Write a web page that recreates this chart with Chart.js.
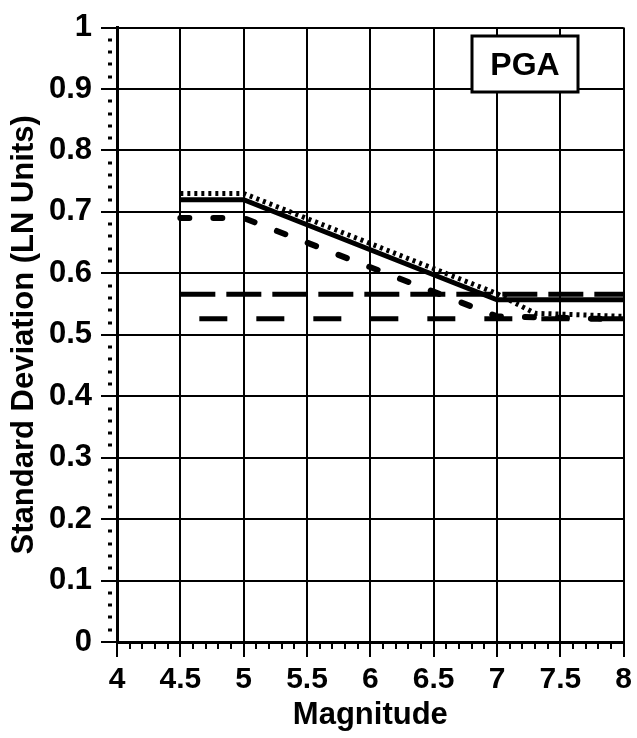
<!DOCTYPE html>
<html>
<head>
<meta charset="utf-8">
<script src="https://cdn.jsdelivr.net/npm/chart.js@4"></script>
<style>
  html, body { margin: 0; padding: 0; background: #fff; }
  #wrap { width: 637px; height: 738px; }
</style>
</head>
<body>
<div id="wrap"><canvas id="chart" width="637" height="738"></canvas></div>
<script>
// Valores (desvio padrão em unidades LN)
const solidX = [4.5, 5, 7, 8];
const solidY = [0.72, 0.72, 0.557, 0.557];
const dottedX = [4.5, 5, 7, 7.3, 8];
const dottedY = [0.73, 0.73, 0.567, 0.535, 0.53];
const shortDashX = [4.5, 5, 7, 8];
const shortDashY = [0.69, 0.69, 0.53, 0.525];
const upperDashX = [4.5, 8];
const upperDashY = [0.566, 0.566];
const lowerDashX = [4.5, 8];
const lowerDashY = [0.526, 0.526];
const xTicks = [4, 4.5, 5, 5.5, 6, 6.5, 7, 7.5, 8];
const yTicks = [0, 0.1, 0.2, 0.3, 0.4, 0.5, 0.6, 0.7, 0.8, 0.9, 1];
const boxLabel = 'PGA';

const FONT = '"Liberation Sans", Arial, Helvetica, sans-serif';

function pts(xs, ys) {
  return xs.map((x, i) => ({ x: x, y: ys[i] }));
}

// Plugin para marcas secundárias e a caixa "PGA"
const extras = {
  id: 'extras',
  afterDraw(chart) {
    const ctx = chart.ctx;
    const xs = chart.scales.x, ys = chart.scales.y;
    const area = chart.chartArea;
    ctx.save();
    ctx.strokeStyle = '#000';
    ctx.lineWidth = 2;
    ctx.beginPath();
    for (let i = 40; i <= 80; i++) {
      if (i % 5 === 0) continue;
      const px = Math.round(xs.getPixelForValue(i / 10));
      ctx.moveTo(px, area.bottom);
      ctx.lineTo(px, area.bottom + 7);
    }
    ctx.stroke();
    ctx.lineWidth = 3;
    ctx.beginPath();
    for (let i = 0; i <= 50; i++) {
      if (i % 5 === 0) continue;
      const py = Math.round(ys.getPixelForValue(i / 50));
      ctx.moveTo(area.left - 9, py);
      ctx.lineTo(area.left - 5, py);
    }
    ctx.stroke();

    // caixa de legenda
    const bx = 472, by = 36, bw = 106, bh = 56;
    ctx.fillStyle = '#fff';
    ctx.fillRect(bx, by, bw, bh);
    ctx.lineWidth = 3;
    ctx.strokeRect(bx, by, bw, bh);
    ctx.fillStyle = '#000';
    ctx.font = 'bold 32px ' + FONT;
    ctx.textAlign = 'center';
    ctx.textBaseline = 'middle';
    ctx.fillText(boxLabel, bx + bw / 2, by + bh / 2 + 2);
    ctx.restore();
  }
};

const ctx = document.getElementById('chart').getContext('2d');
new Chart(ctx, {
  type: 'line',
  data: {
    datasets: [
      {
        data: pts(upperDashX, upperDashY),
        borderColor: '#000', borderWidth: 5,
        borderDash: [35, 11], borderCapStyle: 'butt'
      },
      {
        data: pts(lowerDashX, lowerDashY),
        borderColor: '#000', borderWidth: 5,
        borderDash: [28, 29], borderDashOffset: 38, borderCapStyle: 'butt'
      },
      {
        data: pts(shortDashX, shortDashY),
        borderColor: '#000', borderWidth: 6,
        borderDash: [9, 24], borderCapStyle: 'round'
      },
      {
        data: pts(dottedX, dottedY),
        borderColor: '#000', borderWidth: 5,
        borderDash: [3, 4], borderCapStyle: 'butt'
      },
      {
        data: pts(solidX, solidY),
        borderColor: '#000', borderWidth: 5,
        borderCapStyle: 'butt'
      }
    ]
  },
  options: {
    responsive: false,
    animation: false,
    layout: { padding: { left: 0, right: 9, top: 26, bottom: 0 } },
    elements: { point: { radius: 0 }, line: { tension: 0 } },
    plugins: { legend: { display: false }, tooltip: { enabled: false } },
    scales: {
      x: {
        type: 'linear', min: 4, max: 8,
        afterBuildTicks: (s) => { s.ticks = xTicks.map(v => ({ value: v })); },
        afterFit: (s) => { s.height = 96; },
        grid: { color: '#000', lineWidth: 2, tickLength: 15 },
        border: { display: true, color: '#000', width: 3 },
        ticks: {
          color: '#000', padding: 5,
          font: { family: FONT, size: 30, weight: 'bold' },
          maxRotation: 0, autoSkip: false,
          callback: (v) => String(v)
        },
        title: {
          display: true, text: 'Magnitude', color: '#000',
          font: { family: FONT, size: 31, weight: 'bold' },
          padding: { top: 0, bottom: 4 }
        }
      },
      y: {
        min: 0, max: 1,
        afterBuildTicks: (s) => { s.ticks = yTicks.map(v => ({ value: v })); },
        afterFit: (s) => { s.width = 117; },
        grid: { color: '#000', lineWidth: 2, tickLength: 16 },
        border: { display: true, color: '#000', width: 3 },
        ticks: {
          color: '#000', padding: 9,
          font: { family: FONT, size: 31, weight: 'bold' },
          autoSkip: false,
          callback: (v) => String(v)
        },
        title: {
          display: true, text: 'Standard Deviation (LN Units)', color: '#000',
          font: { family: FONT, size: 31, weight: 'bold' },
          padding: { top: 6, bottom: 2 }
        }
      }
    }
  },
  plugins: [extras]
});
</script>
</body>
</html>
